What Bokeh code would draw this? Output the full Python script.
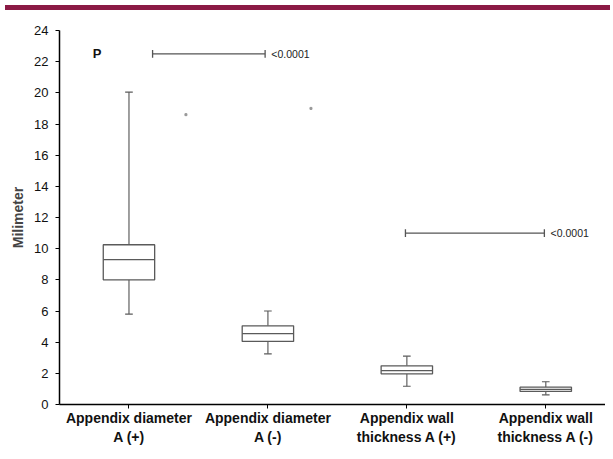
from bokeh.plotting import figure
from bokeh.layouts import column
from bokeh.models import Div, FixedTicker, Range1d
from bokeh.core.properties import value
from bokeh.embed import file_html
from bokeh.resources import INLINE

categories = ["Appendix diameter\nA (+)", "Appendix diameter\nA (-)",
              "Appendix wall\nthickness A (+)", "Appendix wall\nthickness A (-)"]
positions = [1, 2, 3, 4]
lower_whisker = [5.8, 3.25, 1.17, 0.62]
q1 = [8.0, 4.05, 1.97, 0.84]
median = [9.3, 4.55, 2.18, 0.97]
q3 = [10.25, 5.05, 2.48, 1.11]
upper_whisker = [20.05, 6.0, 3.1, 1.46]

outlier_x = [1.41, 2.31]
outlier_y = [18.6, 19.0]

sig_start = [1.17, 2.99]
sig_end = [1.98, 3.99]
sig_y = [22.5, 11.0]
sig_text = ["<0.0001", "<0.0001"]

y_ticks = list(range(0, 25, 2))

FONT = "Liberation Sans"
BOX_LINE = "#5a5a5a"
WHISK = "#808080"

p = figure(width=605, height=440, output_backend="svg", toolbar_location=None,
           x_range=Range1d(0.5, 4.43), y_range=Range1d(0, 24),
           min_border_left=59, min_border_right=0, min_border_top=15, min_border_bottom=51)
p.outline_line_color = None
p.xgrid.visible = False
p.ygrid.visible = False

box_w = 0.37
cap_w = 0.055

# whiskers
p.segment(x0=positions, y0=q3, x1=positions, y1=upper_whisker, line_color=WHISK, line_width=1.5)
p.segment(x0=positions, y0=lower_whisker, x1=positions, y1=q1, line_color=WHISK, line_width=1.5)
# caps
p.segment(x0=[x - cap_w / 2 for x in positions], y0=upper_whisker,
          x1=[x + cap_w / 2 for x in positions], y1=upper_whisker, line_color=BOX_LINE, line_width=1.2)
p.segment(x0=[x - cap_w / 2 for x in positions], y0=lower_whisker,
          x1=[x + cap_w / 2 for x in positions], y1=lower_whisker, line_color=BOX_LINE, line_width=1.2)
# boxes
p.vbar(x=positions, width=box_w, bottom=q1, top=q3, fill_color="white",
       line_color=BOX_LINE, line_width=1.3)
# medians
p.segment(x0=[x - box_w / 2 for x in positions], y0=median,
          x1=[x + box_w / 2 for x in positions], y1=median, line_color=BOX_LINE, line_width=1.3)

# stray outlier dots
p.scatter(x=outlier_x, y=outlier_y, size=2, color="#999999", marker="square")

# significance bars
p.segment(x0=sig_start, y0=sig_y, x1=sig_end, y1=sig_y, line_color="#555555", line_width=1.3)
tick_h = 0.25
p.segment(x0=sig_start, y0=[y - tick_h for y in sig_y], x1=sig_start, y1=[y + tick_h for y in sig_y],
          line_color="#555555", line_width=1.3)
p.segment(x0=sig_end, y0=[y - tick_h for y in sig_y], x1=sig_end, y1=[y + tick_h for y in sig_y],
          line_color="#555555", line_width=1.3)
p.text(x=[x + 0.045 for x in sig_end], y=sig_y, text=sig_text, text_font=value(FONT),
       text_font_size="10.5px", text_baseline="middle", text_align="left", text_color="#222222")

p.text(x=[0.77], y=[22.5], text=["P"], text_font=value(FONT), text_font_size="13px",
       text_font_style="bold", text_baseline="middle", text_align="center", text_color="#111111")

# axes
p.yaxis.ticker = FixedTicker(ticks=y_ticks)
p.yaxis.minor_tick_line_color = None
p.yaxis.major_tick_in = 0
p.yaxis.major_tick_out = 4
p.yaxis.axis_line_color = "black"
p.yaxis.axis_line_width = 1.5
p.yaxis.major_label_text_font = FONT
p.yaxis.major_label_text_font_size = "13px"
p.yaxis.major_label_text_color = "#111111"
p.yaxis.major_label_standoff = 7
p.yaxis.axis_label = "Milimeter"
p.yaxis.axis_label_text_font = FONT
p.yaxis.axis_label_text_font_size = "14px"
p.yaxis.axis_label_text_font_style = "bold"
p.yaxis.axis_label_standoff = 5

p.xaxis.ticker = FixedTicker(ticks=positions)
p.xaxis.major_label_overrides = {pos: lab for pos, lab in zip(positions, categories)}
p.xaxis.minor_tick_line_color = None
p.xaxis.major_tick_in = 0
p.xaxis.major_tick_out = 4
p.xaxis.axis_line_color = "black"
p.xaxis.axis_line_width = 1.5
p.xaxis.major_label_text_font = FONT
p.xaxis.major_label_text_font_size = "14px"
p.xaxis.major_label_text_font_style = "bold"
p.xaxis.major_label_text_color = "#111111"
p.xaxis.major_label_standoff = 1

band = Div(width=605, height=5, styles={"background-color": "#8B1A45"})
layout = column(band, p, spacing=0)

open("out.html", "w").write(file_html(layout, INLINE))
